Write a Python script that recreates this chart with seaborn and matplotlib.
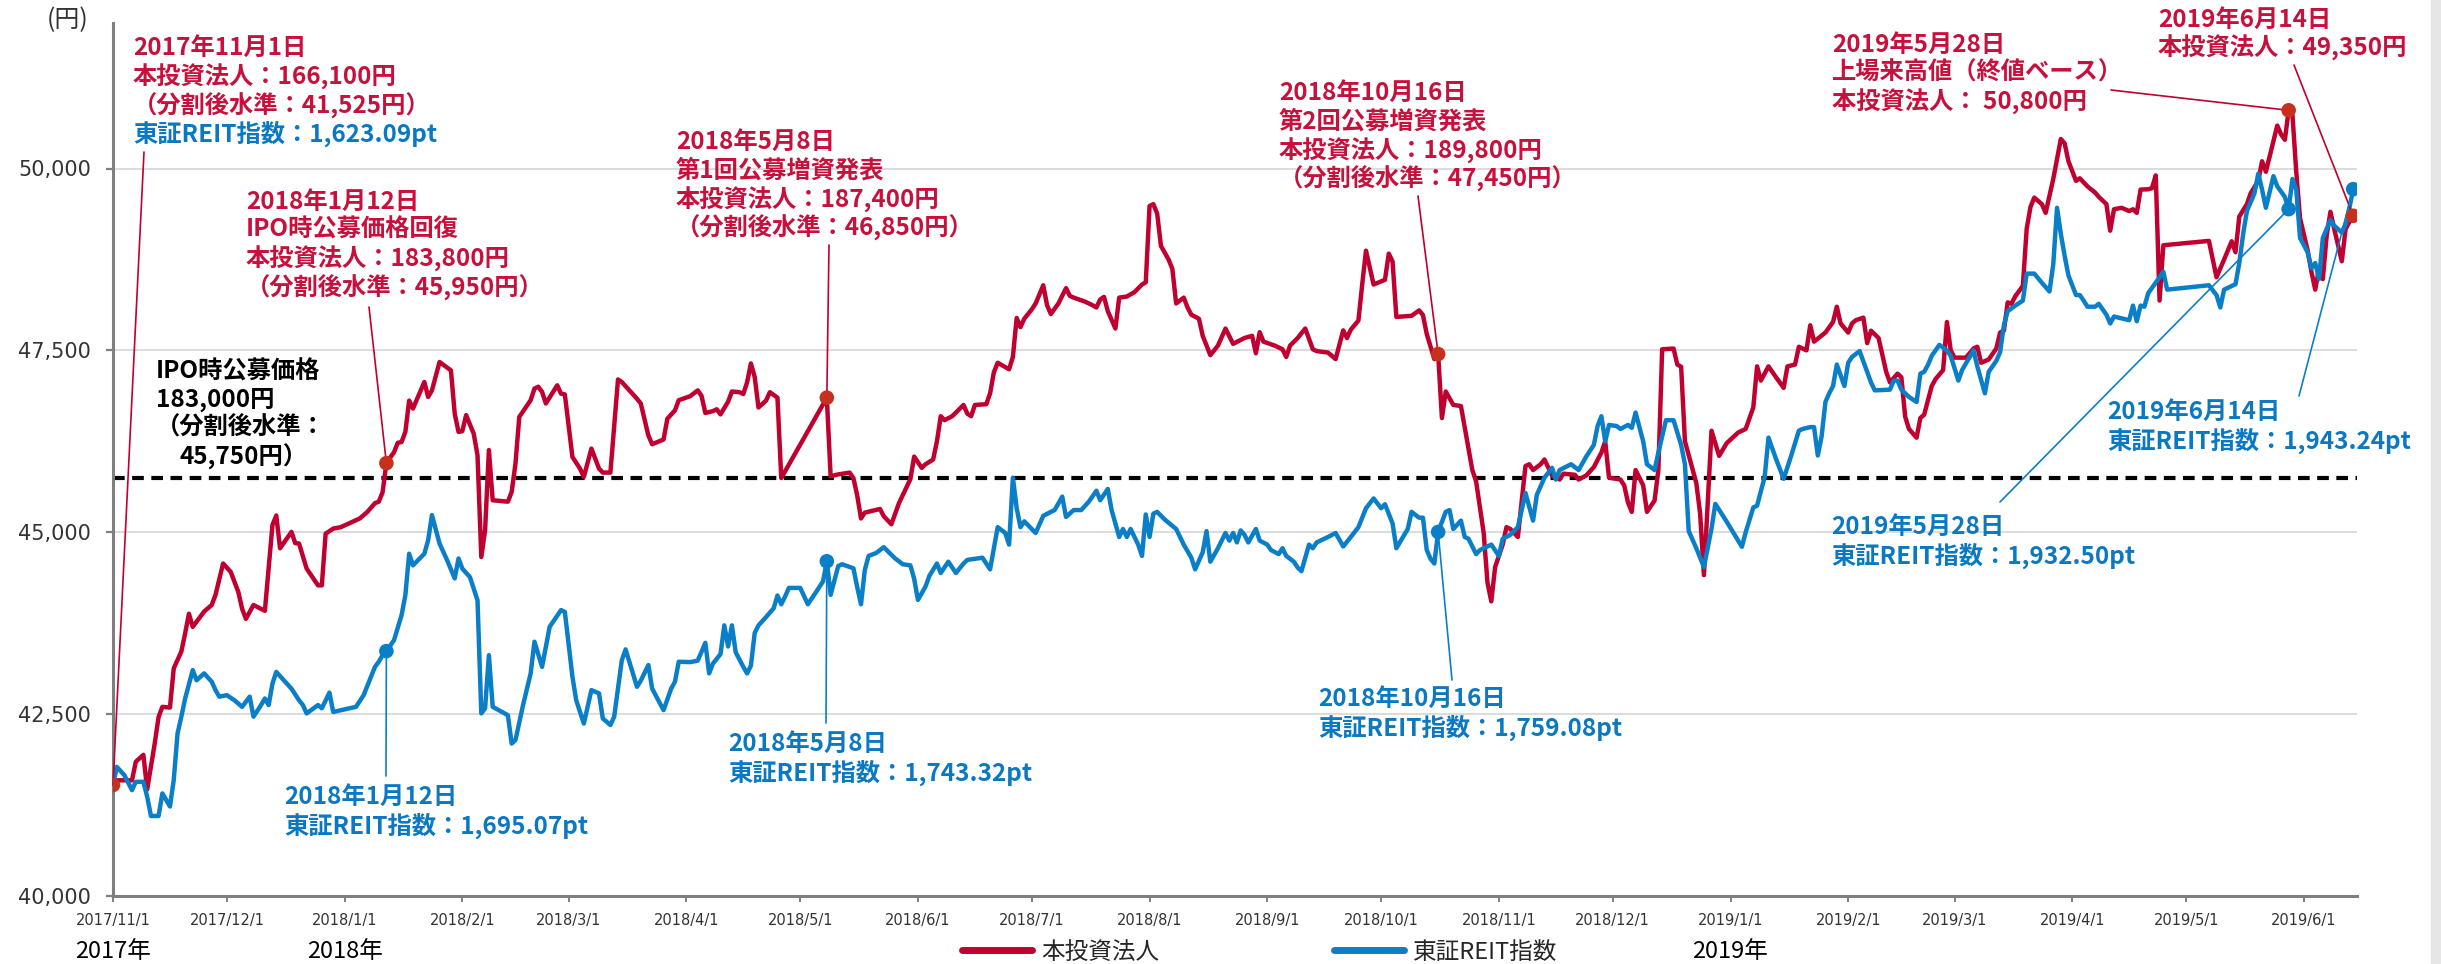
import numpy as np
import pandas as pd
import matplotlib
matplotlib.use("Agg")
import matplotlib.pyplot as plt
import seaborn as sns
from matplotlib.lines import Line2D
from matplotlib.patches import Rectangle
import matplotlib.ticker as mticker
import matplotlib.transforms as mtrans

# ---------------- data ----------------
START = "2017-11-01"
END = "2019-06-15"
series_names = ["本投資法人", "東証REIT指数"]

# days since 2017-11-01 and closing level (yen, index rebased to the unit price)
red_day = [0, 1, 5, 6, 8, 9, 11, 12, 13, 15, 16, 18, 19, 20, 21, 24, 26, 27, 29, 31, 33, 34, 35, 37, 40, 42, 43, 44, 47, 48, 49, 51, 54, 55, 56, 58, 60, 65, 67, 69, 70, 71, 72,
           74, 75, 76, 77, 78, 79, 82, 83, 84, 86, 89, 90, 91, 92, 93, 95, 96, 97, 98, 99, 100, 104, 105, 106, 107, 110, 111, 112, 113, 114, 117, 118, 119, 121, 123, 124, 126,
           128, 129, 131, 133, 134, 136, 138, 139, 141, 142, 145, 146, 148, 149, 152, 154, 155, 156, 158, 159, 160, 162, 163, 165, 166, 167, 168, 169, 170, 172, 173, 175, 176,
           188, 189, 191, 194, 195, 196, 197, 198, 202, 203, 205, 207, 210, 211, 213, 214, 216, 217, 218, 219, 221, 222, 224, 225, 226, 227, 230, 231, 232, 233, 236, 237, 238,
           239, 240, 242, 243, 245, 246, 247, 249, 251, 252, 253, 256, 258, 259, 260, 261, 262, 264, 265, 267, 269, 271, 272, 273, 274, 275, 276, 278, 279, 280, 282, 283, 284,
           286, 287, 289, 291, 293, 295, 298, 300, 301, 302, 303, 306, 308, 309, 310, 312, 314, 316, 317, 320, 322, 324, 325, 326, 328, 329, 330, 332, 335, 336, 337, 338, 342,
           344, 345, 346, 348, 349, 350, 351, 353, 355, 357, 358, 359, 361, 362, 363, 364, 366, 367, 368, 370, 372, 373, 374, 376, 377, 379, 381, 382, 385, 386, 388, 390, 392,
           393, 394, 397, 398, 399, 400, 401, 403, 404, 406, 407, 408, 411, 412, 413, 414, 417, 418, 419, 421, 423, 425, 428, 430, 432, 433, 434, 436, 438, 440, 441, 443, 444,
           446, 447, 448, 451, 453, 454, 455, 457, 458, 459, 461, 462, 463, 465, 467, 468, 470, 471, 472, 473, 475, 476, 477, 479, 480, 482, 483, 484, 485, 488, 490, 491, 492,
           494, 496, 497, 498, 499, 500, 501, 503, 504, 505, 506, 508, 509, 511, 513, 514, 515, 517, 518, 520, 522, 523, 525, 526, 527, 529, 531, 532, 533, 534, 536, 537, 538,
           539, 540, 552, 554, 556, 558, 559, 560, 562, 563, 565, 566, 567, 570, 571, 572, 573, 574, 575, 576, 578, 579, 580, 581, 582, 583, 584, 585, 587, 588, 589, 590]
red_val = [41525, 41590, 41590, 41845, 41940, 41465, 42100, 42460, 42600, 42590, 43130, 43360, 43610, 43880, 43700, 43910, 44000, 44140, 44570, 44455, 44180, 43950, 43810,
           44000, 43920, 45100, 45230, 44780, 45005, 44850, 44845, 44500, 44270, 44270, 44980, 45050, 45070, 45190, 45280, 45400, 45420, 45550, 45950,
           46100, 46230, 46240, 46380, 46810, 46700, 47065, 46860, 46950, 47340, 47225, 46630, 46380, 46390, 46610, 46355, 46060, 44660, 45030, 46130, 45440, 45420, 45555,
           45945, 46585, 46815, 46975, 47000, 46930, 46770, 47020, 46905, 46895, 46035, 45875, 45760, 46150, 45875, 45820, 45820, 47100, 47065, 46950, 46835, 46770, 46330,
           46210, 46275, 46560, 46675, 46815, 46870, 46950, 46875, 46640, 46665, 46690, 46620, 46795, 46935, 46925, 46900, 47060, 47320, 47135, 46715, 46810, 46925, 46850,
           45745, 46850, 45770, 45795, 45820, 45745, 45505, 45190, 45270, 45320, 45220, 45110, 45400, 45730, 46040, 45885, 45935, 46000, 46250, 46595, 46540, 46595, 46645,
           46750, 46630, 46595, 46750, 46760, 46910, 47200, 47330, 47240, 47410, 47945, 47820, 47935, 48065, 48145, 48395, 48120, 48000, 48145, 48355, 48250, 48225, 48170,
           48120, 48090, 48200, 48235, 48040, 47800, 48225, 48240, 48300, 48405, 48435, 49485, 49510, 49380, 48935, 48750, 48620, 48145, 48225, 48090, 47990, 47935, 47700,
           47435, 47565, 47800, 47590, 47670, 47700, 47460, 47750, 47620, 47565, 47515, 47410, 47565, 47670, 47800, 47515, 47490, 47470, 47380, 47775, 47670, 47785, 47910,
           48405, 48870, 48405, 48470, 48830, 48720, 47960, 47975, 48050, 47985, 47725, 47380, 47450, 46570, 46935, 46750, 46735, 46145, 45855, 45700, 44990, 44305, 44050,
           44520, 44830, 45070, 45045, 44935, 45910, 45935, 45855, 45935, 46000, 45780, 45725, 45805, 45790, 45725, 45780, 45895, 46095, 46250, 45750, 45725, 45645, 45410,
           45280, 45855, 45645, 45280, 45435, 45855, 47515, 47525, 47305, 47275, 46250, 45675, 45255, 44410, 46395, 46050, 46225, 46370, 46420, 46715, 47280, 47085, 47280,
           47130, 46985, 47280, 47305, 47550, 47500, 47845, 47620, 47745, 47890, 48100, 47870, 47745, 47870, 47915, 47950, 47600, 47770, 47670, 47205, 47060, 47180, 47130,
           46590, 46420, 46300, 46570, 46615, 47010, 47105, 47230, 47890, 47500, 47400, 47400, 47525, 47550, 47330, 47375, 47525, 47745, 47770, 48160, 48140, 48245, 48385,
           49170, 49470, 49600, 49510, 49390, 49855, 50405, 50345, 50100, 49830, 49865, 49755, 49670, 49610, 49510, 49145, 49440, 49460, 49415, 49440, 49390, 49710, 49715,
           49730, 49905, 48185, 48945, 49005, 48505, 48750, 49000, 48850, 49340, 49510, 49660, 49830, 50100, 49955, 50590, 50470, 50395, 50800, 50740, 49955, 49315, 48875,
           48580, 48335, 48630, 48480, 49070, 49405, 49170, 48725, 49170, 49265, 49350]

blue_day = [0, 1, 3, 5, 6, 8, 9, 10, 12, 13, 15, 16, 17, 18, 19, 21, 22, 24, 26, 27, 28, 30, 32, 34, 36, 37, 39, 40, 41, 42, 43, 45, 47, 49, 50, 51, 54, 55, 57, 58, 64, 66,
            69, 70, 71, 72, 74, 76, 77, 78, 79, 82, 83, 84, 86, 88, 90, 91, 92, 94, 96, 97, 98, 99, 100, 104, 105, 106, 108, 110, 111, 113, 115, 118, 119, 121, 122, 124, 126,
            128, 129, 131, 132, 134, 135, 138, 139, 141, 142, 145, 147, 148, 149, 152, 154, 156, 157, 158, 160, 161, 162, 163, 164, 166, 167, 168, 169, 170, 172, 174, 175, 176,
            177, 178, 181, 183, 185, 187, 188, 189, 191, 192, 195, 196, 197, 198, 199, 201, 203, 205, 206, 208, 210, 211, 212, 214, 215, 217, 218, 220, 222, 224, 225, 229, 231,
            233, 235, 236, 237, 238, 239, 240, 243, 245, 247, 248, 250, 251, 253, 255, 257, 259, 260, 262, 263, 265, 266, 267, 268, 270, 271, 272, 273, 274, 275, 277, 280, 282,
            284, 285, 287, 288, 289, 291, 293, 294, 295, 296, 297, 298, 299, 301, 302, 304, 305, 307, 308, 309, 311, 312, 313, 315, 316, 317, 320, 322, 324, 326, 328, 330, 332,
            334, 335, 337, 338, 341, 342, 344, 345, 346, 347, 348, 349, 351, 352, 353, 355, 356, 357, 359, 360, 363, 365, 366, 368, 370, 371, 372, 374, 375, 377, 379, 380, 381,
            384, 386, 388, 390, 391, 392, 393, 394, 396, 397, 399, 400, 401, 403, 404, 406, 407, 409, 411, 413, 414, 415, 417, 419, 421, 422, 425, 429, 430, 432, 433, 435, 436,
            438, 440, 442, 444, 445, 447, 448, 449, 450, 451, 452, 453, 454, 456, 457, 458, 459, 460, 462, 463, 464, 468, 469, 470, 471, 473, 475, 476, 477, 478, 479, 480, 481,
            483, 484, 486, 487, 490, 491, 493, 494, 496, 497, 498, 499, 501, 503, 504, 506, 508, 510, 511, 512, 513, 514, 515, 517, 518, 519, 520, 522, 523, 525, 526, 527, 529,
            531, 532, 533, 534, 535, 536, 538, 539, 540, 541, 552, 554, 555, 556, 557, 559, 560, 561, 562, 564, 565, 566, 567, 569, 570, 572, 573, 574, 575, 576, 578, 579, 580,
            581, 582, 584, 585, 587, 588, 589, 590]
blue_val = [41525, 41775, 41660, 41455, 41570, 41570, 41365, 41100, 41100, 41410, 41230, 41595, 42235, 42465, 42715, 43105, 42965, 43060, 42945, 42830, 42740, 42760, 42690,
            42600, 42740, 42465, 42625, 42715, 42625, 42920, 43080, 42965, 42850, 42690, 42625, 42510, 42625, 42580, 42795, 42530, 42600, 42760,
            43150, 43220, 43310, 43365, 43515, 43860, 44135, 44705, 44545, 44705, 44890, 45235, 44845, 44615, 44365, 44640, 44500, 44385, 44065, 42510, 42580, 43310, 42600,
            42485, 42095, 42145, 42625, 43060, 43495, 43150, 43700, 43930, 43905, 43015, 42690, 42370, 42830, 42785, 42440, 42350, 42465, 43240, 43390, 42875, 42960, 43175,
            42850, 42555, 42850, 42945, 43220, 43215, 43235, 43480, 43060, 43195, 43325, 43720, 43430, 43720, 43350, 43150, 43060, 43165, 43615, 43720, 43835, 43955, 44130,
            44010, 44115, 44235, 44235, 44010, 44165, 44325, 44600, 44140, 44535, 44560, 44505, 44245, 44010, 44480, 44675, 44715, 44795, 44690, 44640, 44560, 44545, 44360,
            44070, 44255, 44400, 44570, 44440, 44595, 44440, 44570, 44620, 44650, 44490, 45070, 44990, 44830, 45750, 45330, 45070, 45150, 44990, 45225, 45280, 45305, 45490,
            45210, 45305, 45305, 45420, 45570, 45440, 45595, 45305, 44935, 45045, 44935, 45045, 44830, 44675, 45245, 44935, 45255, 45280, 45175, 45045, 44830, 44650, 44490,
            44725, 45015, 44595, 44780, 44990, 44885, 44990, 44860, 45025, 44965, 44860, 45045, 44885, 44830, 44755, 44700, 44780, 44675, 44595, 44515, 44465, 44830, 44780,
            44860, 44935, 44990, 44805, 44935, 45070, 45330, 45465, 45330, 45385, 45120, 44780, 45045, 45280, 45200, 45200, 44755, 44635, 44570, 45005, 45280, 45305, 45045,
            45160, 44935, 44910, 44700, 44755, 44830, 44675, 44910, 44965, 45070, 45305, 45540, 45160, 45515, 45750, 45885, 45725, 45855, 45935, 45855, 46040, 46200, 46460,
            46595, 46250, 46475, 46460, 46420, 46475, 46435, 46645, 46250, 45935, 45855, 46095, 46540, 46540, 46200, 45935, 45015, 44780, 44520, 45050, 45390, 45145, 44800,
            45000, 45340, 45365, 45760, 46300, 46005, 45735, 46055, 46395, 46420, 46445, 46445, 46055, 46320, 46790, 46910, 47010, 47305, 47010, 47330, 47410, 47450, 47490,
            47205, 47060, 46950, 46960, 47085, 47085, 46960, 46860, 46790, 47180, 47205, 47300, 47425, 47500, 47575, 47500, 47425, 47085, 47230, 47500, 47280, 46910, 47205,
            47355, 47475, 47845, 48040, 48115, 48185, 48555, 48555, 48430, 48310, 48680, 49460, 49100, 48800, 48530, 48260, 48260, 48185, 48100, 48100, 48140, 47990, 47870,
            47965, 47940, 47915, 48115, 47900, 48115, 48100, 48285, 48430, 48505, 48580, 48335, 48395, 48260, 48090, 48335, 48360, 48410, 48700, 49095, 49415, 49660, 49930,
            49710, 49460, 49895, 49755, 49610, 49440, 49855, 49710, 49045, 48850, 48630, 48700, 48480, 49045, 49290, 49215, 49120, 49240, 49460, 49715]

ipo_level = 45750
y_ticks = [40000, 42500, 45000, 47500, 50000]
year_labels = ["2017年", "2018年", "2019年"]
year_dates = ["2017-11-01", "2018-01-01", "2019-01-01"]

# event markers: (days since start, level)
red_event_day = [0, 72, 188, 349, 573, 590]
red_event_val = [41525, 45950, 46850, 47450, 50800, 49350]
blue_event_day = [72, 188, 349, 573, 590]
blue_event_val = [43366, 44601, 45004, 49441, 49716]

# ---------------- styling ----------------
W, H, DPI = 2441, 964, 100
RED_LINE = "#C0002F"
RED_TXT = "#C8103C"
RED_DOT = "#C8301E"
BLUE_LINE = "#0A7FC8"
BLUE_TXT = "#0A78C2"

sns.set_theme(style="white")
plt.rcParams["font.family"] = ["Noto Sans CJK JP", "DejaVu Sans"]

fig = plt.figure(figsize=(W / DPI, H / DPI), dpi=DPI)
fig.patch.set_facecolor("white")
ax = fig.add_axes([113 / W, 1 - 896 / H, (2357 - 113) / W, (896 - 23) / H])

base = pd.Timestamp(START)
to_dates = lambda d: base + pd.to_timedelta(np.asarray(d), unit="D")

df = pd.concat([
    pd.DataFrame({"date": to_dates(red_day), "value": red_val, "series": series_names[0]}),
    pd.DataFrame({"date": to_dates(blue_day), "value": blue_val, "series": series_names[1]}),
], ignore_index=True)

sns.lineplot(data=df, x="date", y="value", hue="series", hue_order=series_names,
             palette={series_names[0]: RED_LINE, series_names[1]: BLUE_LINE},
             estimator=None, sort=False, linewidth=3.2, legend=False, ax=ax, zorder=3)

ax.axhline(ipo_level, color="black", lw=3.0, linestyle=(0, (2.8, 1.8)), zorder=2)

# event dots
ev = pd.DataFrame({
    "date": list(to_dates(red_event_day)) + list(to_dates(blue_event_day)),
    "value": red_event_val + blue_event_val,
    "series": [series_names[0]] * len(red_event_day) + [series_names[1]] * len(blue_event_day),
})
sns.scatterplot(data=ev, x="date", y="value", hue="series", hue_order=series_names,
                palette={series_names[0]: RED_DOT, series_names[1]: BLUE_LINE}, s=110,
                edgecolor="none", zorder=5, ax=ax, legend=False)

ax.set_xlim(base, pd.Timestamp(END))
ax.set_ylim(40000, 52000)
ax.set_yticks(y_ticks)
ax.yaxis.set_major_formatter(mticker.FuncFormatter(lambda v, p: f"{int(v):,}"))

month_ticks = pd.date_range(START, "2019-06-01", freq="MS")
ax.set_xticks(month_ticks)
ax.set_xticklabels([f"{d.year}/{d.month}/{d.day}" for d in month_ticks])
ax.set_xlabel("")
ax.set_ylabel("")

ax.grid(False)
ax.yaxis.grid(True, color="#D9D9D9", lw=1.3, zorder=0)
ax.set_axisbelow(True)
for s in ["top", "right"]:
    ax.spines[s].set_visible(False)
for s in ["left", "bottom"]:
    ax.spines[s].set_color("#7F7F7F")
    ax.spines[s].set_linewidth(2.2)

ax.tick_params(axis="y", left=True, length=5, width=1.6, color="#7F7F7F", labelsize=15,
               labelcolor="#333333", pad=11)
ax.tick_params(axis="x", bottom=True, length=4, width=1.4, color="#7F7F7F", labelsize=10.5,
               labelcolor="#333333", pad=8)
for lab in ax.get_xticklabels() + ax.get_yticklabels():
    lab.set_fontfamily("DejaVu Sans")


def px(x, y):
    return x / W, 1 - y / H


def label(x, y, s, color, size=17.5, weight="bold", ha="left"):
    fig.text(*px(x, y), s, color=color, fontsize=size, fontweight=weight, ha=ha, va="center")


def leader(day, val, x, y, color):
    ax.annotate("", xy=(to_dates([day])[0], val), xycoords="data",
                xytext=(x, H - y), textcoords="figure pixels",
                arrowprops=dict(arrowstyle="-", color=color, lw=1.2, shrinkA=0, shrinkB=0),
                zorder=4, annotation_clip=False)


# red annotations
for yy, s in zip([48, 77, 106], ["2017年11月1日", "本投資法人：166,100円", "（分割後水準：41,525円）"]):
    label(133, yy, s, RED_TXT)
label(133, 134, "東証REIT指数：1,623.09pt", BLUE_TXT)
leader(red_event_day[0], red_event_val[0], 144, 152, RED_LINE)

for yy, s in zip([202, 230, 259, 288], ["2018年1月12日", "IPO時公募価格回復", "本投資法人：183,800円", "（分割後水準：45,950円）"]):
    label(246, yy, s, RED_TXT)
leader(red_event_day[1], red_event_val[1], 369, 307, RED_LINE)

for yy, s in zip([142, 171, 200, 228], ["2018年5月8日", "第1回公募増資発表", "本投資法人：187,400円", "（分割後水準：46,850円）"]):
    label(676, yy, s, RED_TXT)
leader(red_event_day[2], red_event_val[2], 829, 245, RED_LINE)

for yy, s in zip([93, 122, 151, 179], ["2018年10月16日", "第2回公募増資発表", "本投資法人：189,800円", "（分割後水準：47,450円）"]):
    label(1279, yy, s, RED_TXT)
leader(red_event_day[3], red_event_val[3], 1418, 196, RED_LINE)

for yy, s in zip([45, 73, 102], ["2019年5月28日", "上場来高値（終値ベース）", "本投資法人： 50,800円"]):
    label(1832, yy, s, RED_TXT)
leader(red_event_day[4], red_event_val[4], 2111, 90, RED_LINE)

for yy, s in zip([20, 48], ["2019年6月14日", "本投資法人：49,350円"]):
    label(2158, yy, s, RED_TXT)
leader(red_event_day[5], red_event_val[5], 2294, 65, RED_LINE)

# IPO price note
for yy, s in zip([372, 400, 428], ["IPO時公募価格", "183,000円", "（分割後水準："]):
    label(156, yy, s, "black")
label(179, 457, "45,750円）", "black")

# blue annotations
blue_notes = [
    (284, 797, "2018年1月12日", "東証REIT指数：1,695.07pt", 386, 776),
    (728, 744, "2018年5月8日", "東証REIT指数：1,743.32pt", 826, 723),
    (1318, 699, "2018年10月16日", "東証REIT指数：1,759.08pt", 1452, 680),
    (1831, 527, "2019年5月28日", "東証REIT指数：1,932.50pt", 2000, 502),
    (2107, 412, "2019年6月14日", "東証REIT指数：1,943.24pt", 2299, 396),
]
for i, (x0, y0, l1, l2, lx, ly) in enumerate(blue_notes):
    label(x0, y0, l1, BLUE_TXT)
    label(x0, y0 + 29, l2, BLUE_TXT)
    leader(blue_event_day[i], blue_event_val[i], lx, ly, BLUE_LINE)

# unit label
fig.text(*px(68, 20), "(円)", fontsize=18, color="#333333", ha="center", va="center")

# year labels under the axis
trans = mtrans.blended_transform_factory(ax.transData, fig.transFigure)
for d, s in zip(year_dates, year_labels):
    ax.text(pd.Timestamp(d), 1 - 951 / H, s, transform=trans, fontsize=17, color="black",
            ha="center", va="center", clip_on=False)

# legend
handles = [Line2D([], [], color=RED_LINE, lw=5), Line2D([], [], color=BLUE_LINE, lw=5)]
fig.legend(handles, series_names, loc="center left", bbox_to_anchor=(962 / W, 1 - 952 / H),
           ncol=2, frameon=False, fontsize=17, handlelength=2.95, handletextpad=0.4,
           columnspacing=7.4, borderpad=0, borderaxespad=0)

# grey strip at the right edge
fig.add_artist(Rectangle((2431 / W, 0), 10 / W, 1, transform=fig.transFigure,
                         color="#E6E6E6", zorder=-1))

ax.set_xlabel("")
ax.set_ylabel("")
fig.savefig("out.png", dpi=DPI)
